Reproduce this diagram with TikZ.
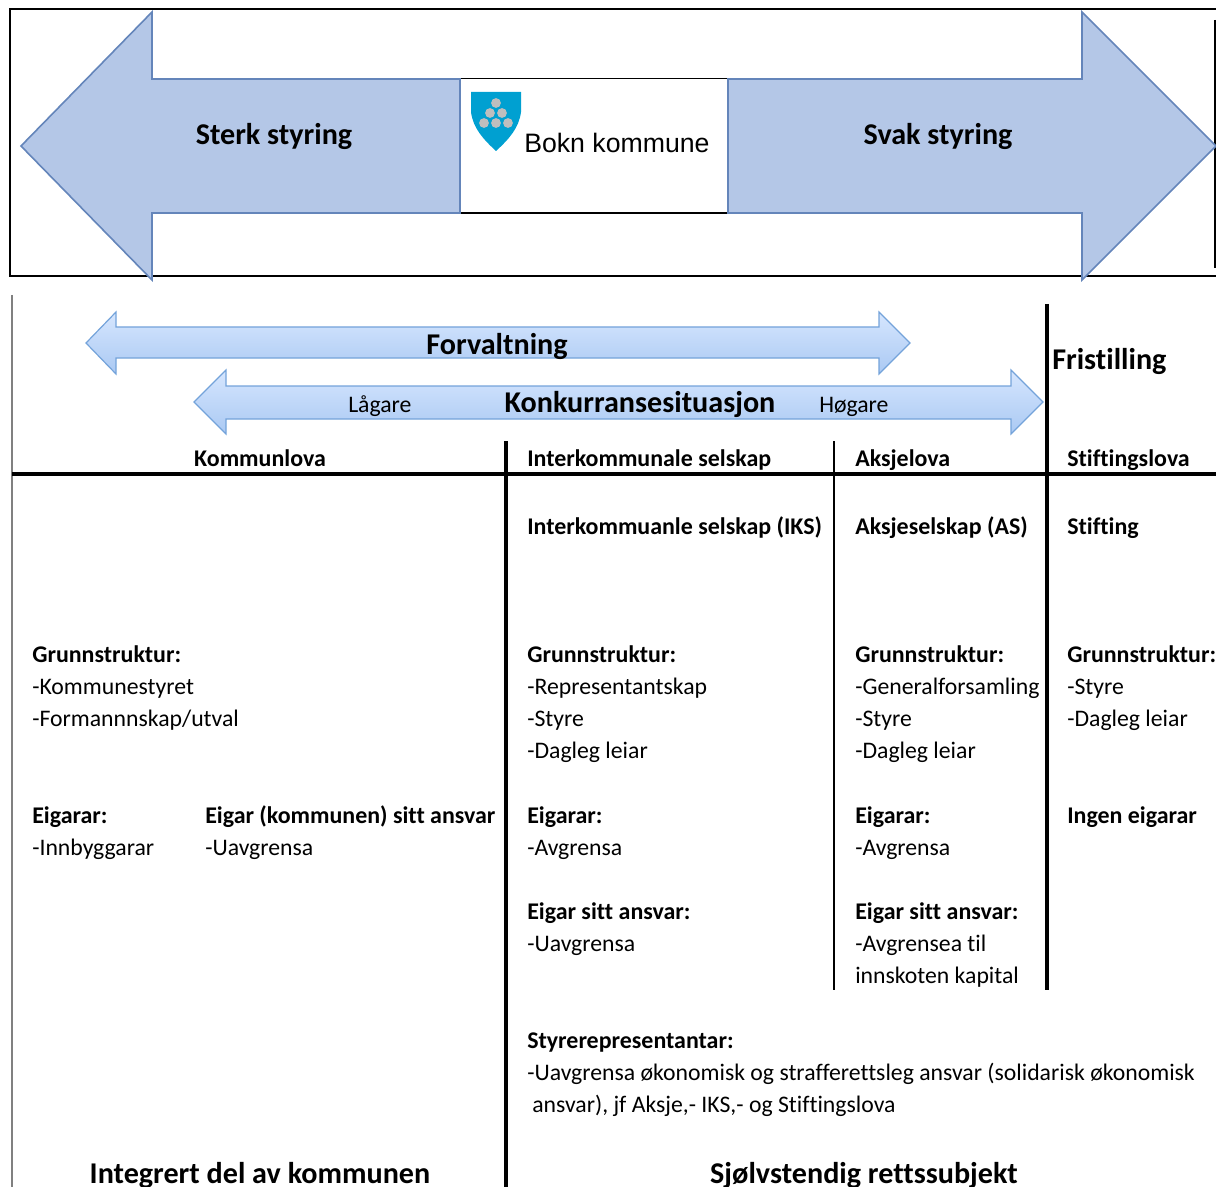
\documentclass[tikz,border=0pt]{standalone}
\usepackage{fontspec}
\setmainfont[Ligatures=NoCommon]{Carlito}
\newfontfamily\boknfont{Liberation Sans}
\usetikzlibrary{calc}
\definecolor{pilblaa}{RGB}{180,199,231}
\definecolor{pilkant}{RGB}{100,133,186}
\definecolor{skalkant}{RGB}{116,163,218}
\definecolor{skaltopp}{RGB}{214,230,254}
\definecolor{skalbunn}{RGB}{170,201,243}
\definecolor{vapenblaa}{RGB}{0,160,209}
\definecolor{vapengraa}{RGB}{190,190,190}
\tikzset{
	txt/.style={anchor=base west, inner sep=0pt, font=\fontsize{17.8}{20}\selectfont},
	hd/.style={txt, font=\fontsize{17.95}{20}\selectfont\bfseries},
	stor/.style={anchor=base, inner sep=0pt, font=\fontsize{22.6}{24}\selectfont\bfseries},
	bigarrow/.style={draw=pilkant, fill=pilblaa, line width=1.2pt, line join=miter},
	thinarrow/.style={draw=skalkant, top color=skaltopp, bottom color=skalbunn, line width=0.9pt},
	linje/.style={black, line width=2.4pt},
}
\begin{document}
\begin{tikzpicture}[x=0.75pt,y=-0.75pt]
	\useasboundingbox (0,0) rectangle (1216,1187);

	% top panel
	\draw[black, line width=0.8pt] (1216,9) -- (10,9) -- (10,276) -- (1216,276);
	\draw[black, line width=1pt] (1215,20) -- (1215,268);
	\draw[black, line width=0.8pt] (450,78.5) -- (740,78.5) (450,213) -- (740,213);
	\draw[bigarrow] (460,79) -- (152,79) -- (152,12) -- (21,146) -- (152,280) -- (152,213) -- (460,213) -- cycle;
	\draw[bigarrow] (728,79) -- (1082,79) -- (1082,12) -- (1216,146) -- (1082,280) -- (1082,213) -- (728,213) -- cycle;
	\node[stor] (sterk) at (274,145) {Sterk styring};
	\node[stor] (svak) at (938,145) {Svak styring};

	% kommunevapen
	\fill[vapenblaa] (471,92) -- (521,92) -- (521,112) .. controls (519,128) and (509,139) .. (496,151) .. controls (483,139) and (473,128) .. (471,112) -- cycle;
	\foreach \x/\y in {496/103, 490/113, 502/113, 484/123, 496/123, 508/123}{
		\fill[vapengraa] (\x,\y) circle (4.9);
	}
	\node[anchor=base west, inner sep=0pt, font=\fontsize{20}{24}\selectfont\boknfont] (bokn) at (524,153) {Bokn kommune};

	% skalaer
	\draw[thinarrow] (86,343) -- (116,312) -- (116,327) -- (879,327) -- (879,312) -- (910,343) -- (879,374) -- (879,358) -- (116,358) -- (116,374) -- cycle;
	\draw[thinarrow] (194,402) -- (226,370) -- (226,386) -- (1011,386) -- (1011,370) -- (1043,402) -- (1011,434) -- (1011,419) -- (226,419) -- (226,434) -- cycle;
	\node[stor] (forvaltning) at (497,354) {Forvaltning};
	\node[stor] (konkurranse) at (640,412) {Konkurransesituasjon};
	\node[txt] (lagare) at (348,412) {Lågare};
	\node[txt] (hogare) at (819,412) {Høgare};
	\node[stor, anchor=base west] (fristilling) at (1052,369) {Fristilling};

	% linjer
	\draw[gray, line width=1.5pt] (12,295) -- (12,1187);
	\draw[linje] (12,474) -- (1216,474);
	\draw[linje] (506,441) -- (506,1187);
	\draw[black, line width=0.8pt] (834,441) -- (834,990);
	\draw[linje] (1047,304) -- (1047,990);

	% kolonne 1
	\node[hd, anchor=base] (kommunlova) at (260,466) {Kommunlova};
	\node[hd] (gs1) at (32,662) {Grunnstruktur:};
	\node[txt] (gs1a) at (32,694) {-Kommunestyret};
	\node[txt] (gs1b) at (32,726) {-Formannnskap/utval};
	\node[hd] (eig1) at (32,823) {Eigarar:};
	\node[txt] (eig1a) at (32,855) {-Innbyggarar};
	\node[hd] (ans1) at (205,823) {Eigar (kommunen) sitt ansvar};
	\node[txt] (ans1a) at (205,855) {-Uavgrensa};

	% kolonne 2
	\node[hd] (iks) at (527,466) {Interkommunale selskap};
	\node[hd] (iks2) at (527,534) {Interkommuanle selskap (IKS)};
	\node[hd] (gs2) at (527,662) {Grunnstruktur:};
	\node[txt] (gs2a) at (527,694) {-Representantskap};
	\node[txt] (gs2b) at (527,726) {-Styre};
	\node[txt] (gs2c) at (527,758) {-Dagleg leiar};
	\node[hd] (eig2) at (527,823) {Eigarar:};
	\node[txt] (eig2a) at (527,855) {-Avgrensa};
	\node[hd] (ans2) at (527,919) {Eigar sitt ansvar:};
	\node[txt] (ans2a) at (527,951) {-Uavgrensa};

	% kolonne 3
	\node[hd] (aksje) at (855,466) {Aksjelova};
	\node[hd] (as) at (855,534) {Aksjeselskap (AS)};
	\node[hd] (gs3) at (855,662) {Grunnstruktur:};
	\node[txt] (gs3a) at (855,694) {-Generalforsamling};
	\node[txt] (gs3b) at (855,726) {-Styre};
	\node[txt] (gs3c) at (855,758) {-Dagleg leiar};
	\node[hd] (eig3) at (855,823) {Eigarar:};
	\node[txt] (eig3a) at (855,855) {-Avgrensa};
	\node[hd] (ans3) at (855,919) {Eigar sitt ansvar:};
	\node[txt] (ans3a) at (855,951) {-Avgrensea til};
	\node[txt] (ans3b) at (855,983) {innskoten kapital};

	% kolonne 4
	\node[hd] (stift) at (1067,466) {Stiftingslova};
	\node[hd] (stift2) at (1067,534) {Stifting};
	\node[hd] (gs4) at (1067,662) {Grunnstruktur:};
	\node[txt] (gs4a) at (1067,694) {-Styre};
	\node[txt] (gs4b) at (1067,726) {-Dagleg leiar};
	\node[hd] (eig4) at (1067,823) {Ingen eigarar};

	% styrerepresentantar
	\node[hd] (styre) at (527,1048) {Styrerepresentantar:};
	\node[txt] (styre1) at (527,1080) {-Uavgrensa økonomisk og strafferettsleg ansvar (solidarisk økonomisk};
	\node[txt] (styre2) at (532,1112) {ansvar), jf Aksje,- IKS,- og Stiftingslova};

	\node[stor] (integrert) at (260,1183) {Integrert del av kommunen};
	\node[stor] (sjolv) at (864,1183) {Sjølvstendig rettssubjekt};
\end{tikzpicture}
\end{document}
